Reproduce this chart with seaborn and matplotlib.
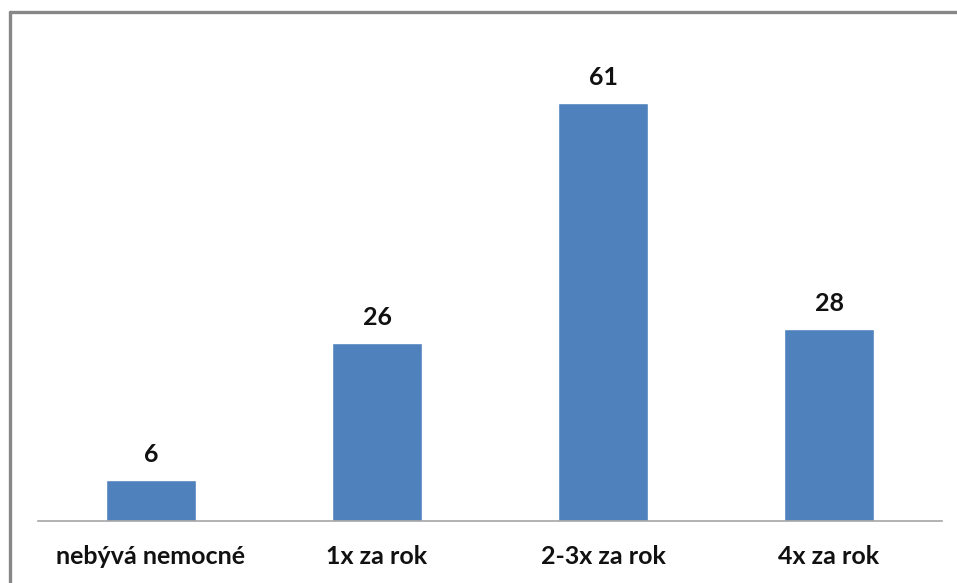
import matplotlib
matplotlib.use("Agg")
import matplotlib.pyplot as plt
from matplotlib.lines import Line2D
import seaborn as sns
import pandas as pd

categories = ["nebývá nemocné", "1x za rok", "2-3x za rok", "4x za rok"]
counts = [6, 26, 61, 28]

sns.set_theme(style="white")
plt.rcParams["font.family"] = ["Lato", "DejaVu Sans"]

df = pd.DataFrame({"kategorie": categories, "pocet": counts})

W, H = 957, 583
fig = plt.figure(figsize=(W / 100, H / 100), dpi=100)
ax = fig.add_axes([38 / W, (H - 521) / H, (942 - 38) / W, (521 - 41) / H])

sns.barplot(data=df, x="kategorie", y="pocet", color="#4f81bd", saturation=1,
            width=0.395, ax=ax)

ax.set_ylim(0, 70)
ax.set_xlim(-0.5, len(categories) - 0.5)
ax.set_xlabel("")
ax.set_ylabel("")
ax.set_yticks([])
for side in ("top", "right", "left"):
    ax.spines[side].set_visible(False)
ax.spines["bottom"].set_color("#a6a6a6")
ax.spines["bottom"].set_linewidth(1.2)
ax.tick_params(axis="x", length=0, pad=17, labelsize=18)
for lbl in ax.get_xticklabels():
    lbl.set_fontweight("bold")
    lbl.set_color("#111111")

for patch, val in zip(ax.patches, counts):
    ax.annotate(f"{val}", (patch.get_x() + patch.get_width() / 2, val),
                xytext=(0, 10), textcoords="offset points",
                ha="center", va="bottom", fontsize=18, fontweight="bold",
                color="#111111")

# outer chart frame (top and left edges)
fig.add_artist(Line2D([9.5 / W, 9.5 / W], [0, 1 - 11.5 / H],
                      transform=fig.transFigure, color="#878787", lw=2.4))
fig.add_artist(Line2D([9.5 / W, 1], [1 - 11.5 / H, 1 - 11.5 / H],
                      transform=fig.transFigure, color="#878787", lw=2.4))

fig.savefig("out.png", dpi=100, facecolor="white")
